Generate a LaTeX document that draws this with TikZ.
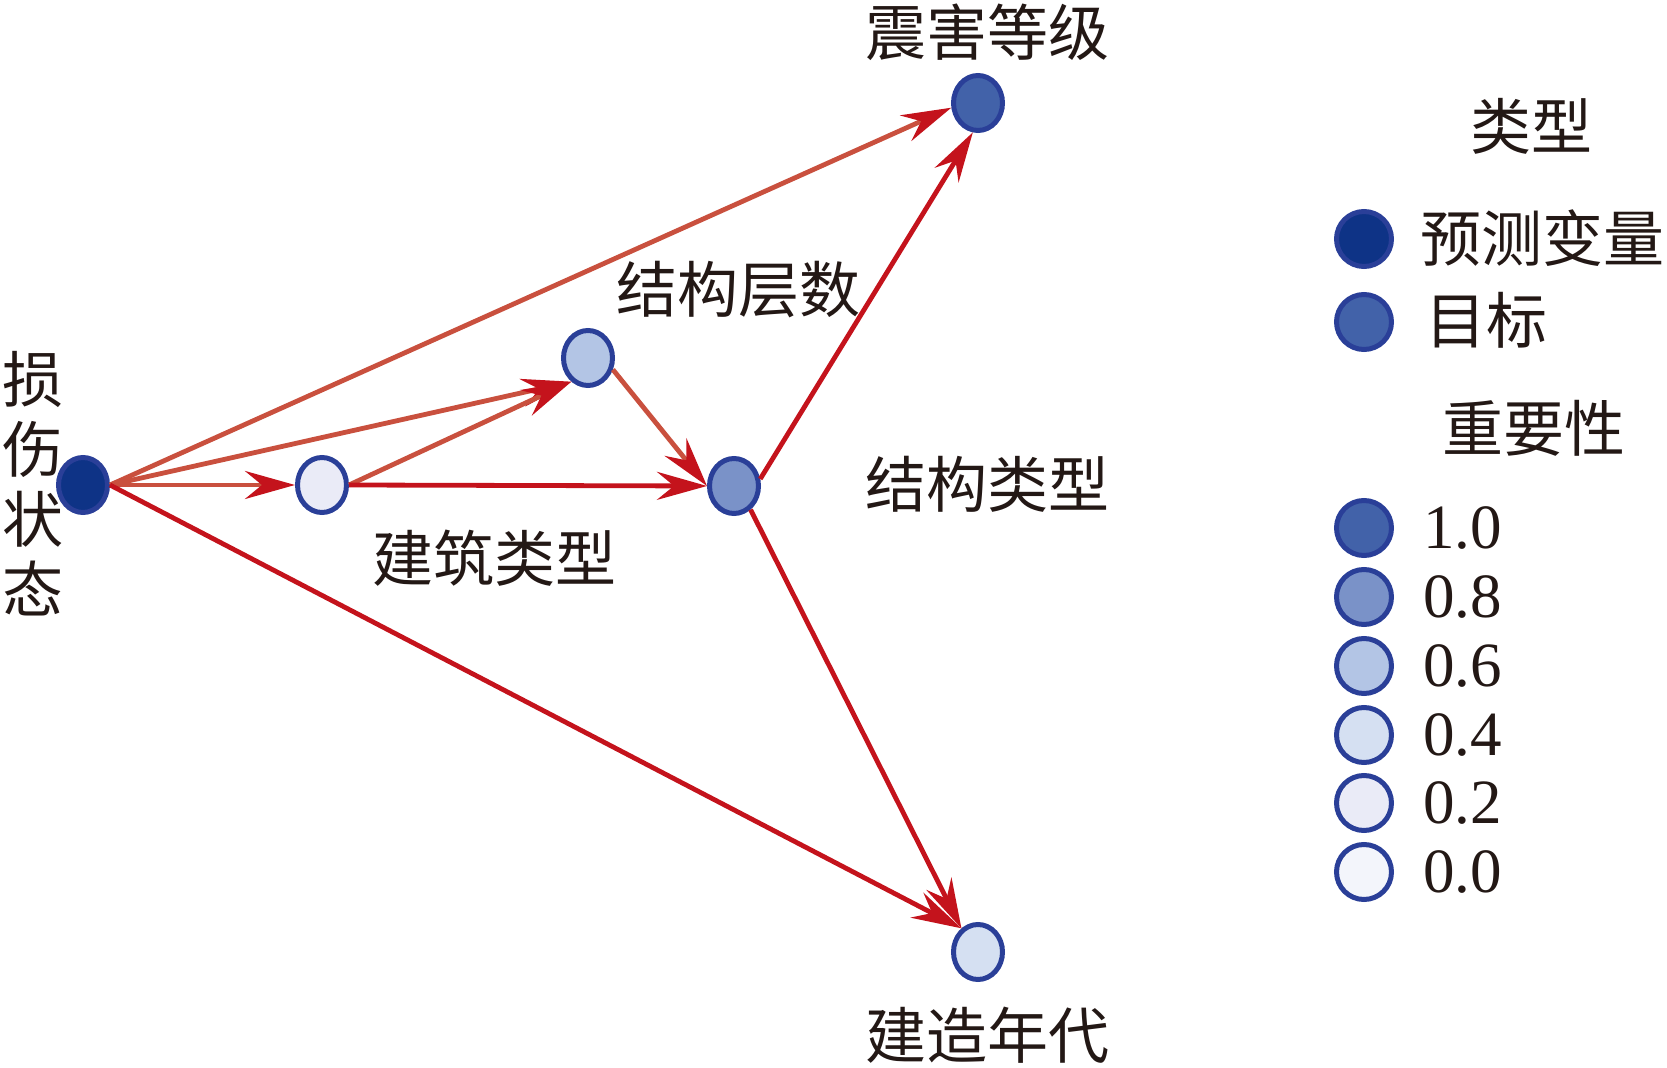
\documentclass[tikz,border=0pt]{standalone}
\usepackage{fontspec}
\setmainfont{Liberation Serif}
\newfontfamily\cjk{Noto Sans CJK SC}
\usetikzlibrary{arrows.meta,shapes.geometric}
\definecolor{txt}{HTML}{231815}
\definecolor{bord}{HTML}{2A3F98}
\definecolor{cnavy}{HTML}{0E3386}
\definecolor{cten}{HTML}{4262A9}
\definecolor{ceight}{HTML}{7A92C8}
\definecolor{csix}{HTML}{B3C5E5}
\definecolor{cfour}{HTML}{D5E0F2}
\definecolor{ctwo}{HTML}{EAEBF7}
\definecolor{czero}{HTML}{F3F5FB}
\definecolor{eorange}{HTML}{C9503E}
\definecolor{ered}{HTML}{C4131C}
\begin{document}
\begin{tikzpicture}[x=0.5pt,y=-0.5pt,
 vnode/.style={ellipse,draw=bord,line width=2.5pt,minimum width=24.5pt,minimum height=27.5pt,inner sep=0pt},
 lcirc/.style={circle,draw=bord,line width=2.5pt,minimum size=27.5pt,inner sep=0pt},
 lab/.style={text=txt,inner sep=0pt,font=\cjk\fontsize{30.5pt}{35pt}\selectfont},
 num/.style={text=txt,inner sep=0pt,anchor=west,font=\fontsize{31.5pt}{36pt}\selectfont},
 tipr/.style={-{Stealth[length=25pt,width=14pt,inset=8.5pt,color=ered]}},
 eo/.style={draw=eorange,line width=2.4pt,tipr},
 er/.style={draw=ered,line width=2.4pt,tipr}]
\useasboundingbox (0,0) rectangle (1667,1068);
% graph nodes
\node[vnode,fill=cnavy] (src) at (83,485) {};
\node[vnode,fill=ctwo] (bt) at (322,485) {};
\node[vnode,fill=csix] (jc) at (588,358) {};
\node[vnode,fill=ceight] (jl) at (734,486) {};
\node[vnode,fill=cten] (zh) at (978,103) {};
\node[vnode,fill=cfour] (jn) at (978,952) {};
% labels
\node[lab,align=center] (lsrc) at (33,484) {损\\伤\\状\\态};
\node[lab] (lzh) at (987,32) {震害等级};
\node[lab] (ljc) at (738,290) {结构层数};
\node[lab] (ljl) at (987,484) {结构类型};
\node[lab] (lbt) at (494,558) {建筑类型};
\node[lab] (ljn) at (987,1035) {建造年代};
% edges
\draw[eo] (src.east) -- (zh.190);
\draw[eo] (src.east) -- (jc.-125);
\draw[eo] (src.east) -- (bt.west);
\draw[er] (src.east) -- (jn.125);
\draw[eo] (bt.east) -- (jc.-125);
\draw[er] (bt.east) -- (jl.west);
\draw[eo] (jc.-25) -- (jl.west);
\draw[er] (jl.15) -- (zh.-100);
\draw[er] (jl.-55) -- (jn.125);
% legend
\node[lab] (ltype) at (1531,126) {类型};
\node[lcirc,fill=cnavy] (k1) at (1364,239) {};
\node[lab,anchor=west] (t1) at (1420,238) {预测变量};
\node[lcirc,fill=cten] (k2) at (1364,322) {};
\node[lab,anchor=west] (t2) at (1425,320) {目标};
\node[lab] (limp) at (1534,428) {重要性};
\node[lcirc,fill=cten] (i10) at (1364,528) {};
\node[num] (n10) at (1423,528) {1.0};
\node[lcirc,fill=ceight] (i08) at (1364,597) {};
\node[num] (n08) at (1423,597) {0.8};
\node[lcirc,fill=csix] (i06) at (1364,666) {};
\node[num] (n06) at (1423,666) {0.6};
\node[lcirc,fill=cfour] (i04) at (1364,735) {};
\node[num] (n04) at (1423,735) {0.4};
\node[lcirc,fill=ctwo] (i02) at (1364,803) {};
\node[num] (n02) at (1423,803) {0.2};
\node[lcirc,fill=czero] (i00) at (1364,872) {};
\node[num] (n00) at (1423,872) {0.0};
\end{tikzpicture}
\end{document}
